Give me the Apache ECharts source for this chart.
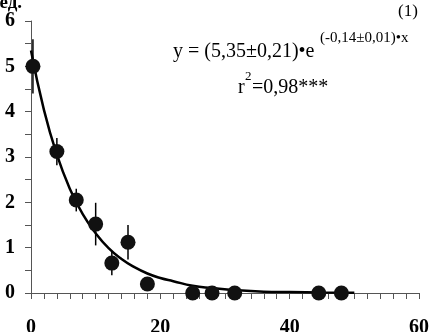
<!DOCTYPE html>
<html>
<head>
<meta charset="utf-8">
<script src="https://cdn.jsdelivr.net/npm/echarts@6/dist/echarts.min.js"></script>
<style>
html,body{margin:0;padding:0;background:#fff;}
#c{width:429px;height:332px;}
</style>
</head>
<body>
<div id="c"></div>
<script>
// Observed points (x, mean, error half-width)
const xVals   = [0.3, 4, 7, 10, 12.5, 15, 18, 25, 28, 31.5, 44.5, 48];
const yVals   = [5.0, 3.12, 2.05, 1.52, 0.66, 1.12, 0.2, 0.0, 0.0, 0.0, 0.0, 0.0];
const errVals = [0.6, 0.3, 0.25, 0.47, 0.27, 0.38, 0.05, 0, 0, 0, 0, 0];

// Fitted curve
const curveX = [0, 2, 4, 6, 8, 10, 12, 14, 16, 18, 20, 22, 25, 28, 32, 36, 40, 45, 50];
const curveY = [5.35, 4.04, 3.05, 2.30, 1.74, 1.32, 0.99, 0.75, 0.57, 0.43, 0.33, 0.26, 0.16, 0.11, 0.06, 0.03, 0.02, 0.01, 0.005];

const xTicks = [0, 20, 40, 60];
const yTicks = [0, 1, 2, 3, 4, 5, 6];

const pts = xVals.map((x, i) => [x, yVals[i]]);
const bars = xVals.map((x, i) => [x, yVals[i] - errVals[i], yVals[i] + errVals[i]]).filter((d, i) => errVals[i] > 0);
const curve = curveX.map((x, i) => [x, curveY[i]]);

const serif = 'Liberation Serif';
const chart = echarts.init(document.getElementById('c'));
const axisCol = '#555';
chart.setOption({
  animation: false,
  grid: {left: 31, right: 10, top: 21, bottom: 39, containLabel: false, outerBoundsMode: 'none'},
  xAxis: {
    type: 'value', min: xTicks[0], max: xTicks[xTicks.length - 1], interval: 20,
    splitLine: {show: false},
    axisLine: {lineStyle: {color: axisCol, width: 1}},
    axisTick: {length: 6, lineStyle: {color: axisCol}},
    minorTick: {show: true, splitNumber: 10, length: 6, lineStyle: {color: axisCol}},
    axisLabel: {margin: 25, fontFamily: serif, fontWeight: 'bold', fontSize: 20, color: '#000'}
  },
  yAxis: {
    type: 'value', min: yTicks[0], max: yTicks[yTicks.length - 1], interval: 1,
    splitLine: {show: false},
    axisLine: {show: true, lineStyle: {color: axisCol, width: 1}},
    axisTick: {show: true, length: 6, lineStyle: {color: axisCol}},
    minorTick: {show: true, splitNumber: 2, length: 6, lineStyle: {color: axisCol}},
    axisLabel: {margin: 16, fontFamily: serif, fontWeight: 'bold', fontSize: 20, color: '#000'}
  },
  series: [
    {
      type: 'line', data: curve, smooth: true, showSymbol: false, z: 2,
      lineStyle: {color: '#000', width: 2.5}
    },
    {
      type: 'custom', data: bars, z: 3,
      renderItem: function (params, api) {
        const p1 = api.coord([api.value(0), api.value(1)]);
        const p2 = api.coord([api.value(0), api.value(2)]);
        return {type: 'line', shape: {x1: p1[0], y1: p1[1], x2: p2[0], y2: p2[1]},
                style: {stroke: '#000', lineWidth: 1.5}};
      }
    },
    {
      type: 'scatter', data: pts, symbol: 'circle', symbolSize: 15, z: 4,
      itemStyle: {color: '#111', opacity: 1}
    }
  ],
  graphic: [
    {type: 'text', x: 22, y: 3, style: {text: 'ед.', fontFamily: serif, fontWeight: 'bold', fontSize: 19, fill: '#000', align: 'right', verticalAlign: 'middle'}},
    {type: 'text', x: 408, y: 12, style: {text: '(1)', fontFamily: serif, fontSize: 17, fill: '#000', align: 'center', verticalAlign: 'middle'}},
    {type: 'text', x: 173, y: 52, style: {text: 'y = (5,35±0,21)•e', fontFamily: serif, fontSize: 20, fill: '#000', align: 'left', verticalAlign: 'middle'}},
    {type: 'text', x: 320, y: 38, style: {text: '(-0,14±0,01)•x', fontFamily: serif, fontSize: 15, fill: '#000', align: 'left', verticalAlign: 'middle'}},
    {type: 'text', x: 238, y: 88, style: {text: 'r', fontFamily: serif, fontSize: 20, fill: '#000', align: 'left', verticalAlign: 'middle'}},
    {type: 'text', x: 245, y: 77, style: {text: '2', fontFamily: serif, fontSize: 13, fill: '#000', align: 'left', verticalAlign: 'middle'}},
    {type: 'text', x: 252, y: 88, style: {text: '=0,98***', fontFamily: serif, fontSize: 20, fill: '#000', align: 'left', verticalAlign: 'middle'}}
  ]
});
</script>
</body>
</html>
